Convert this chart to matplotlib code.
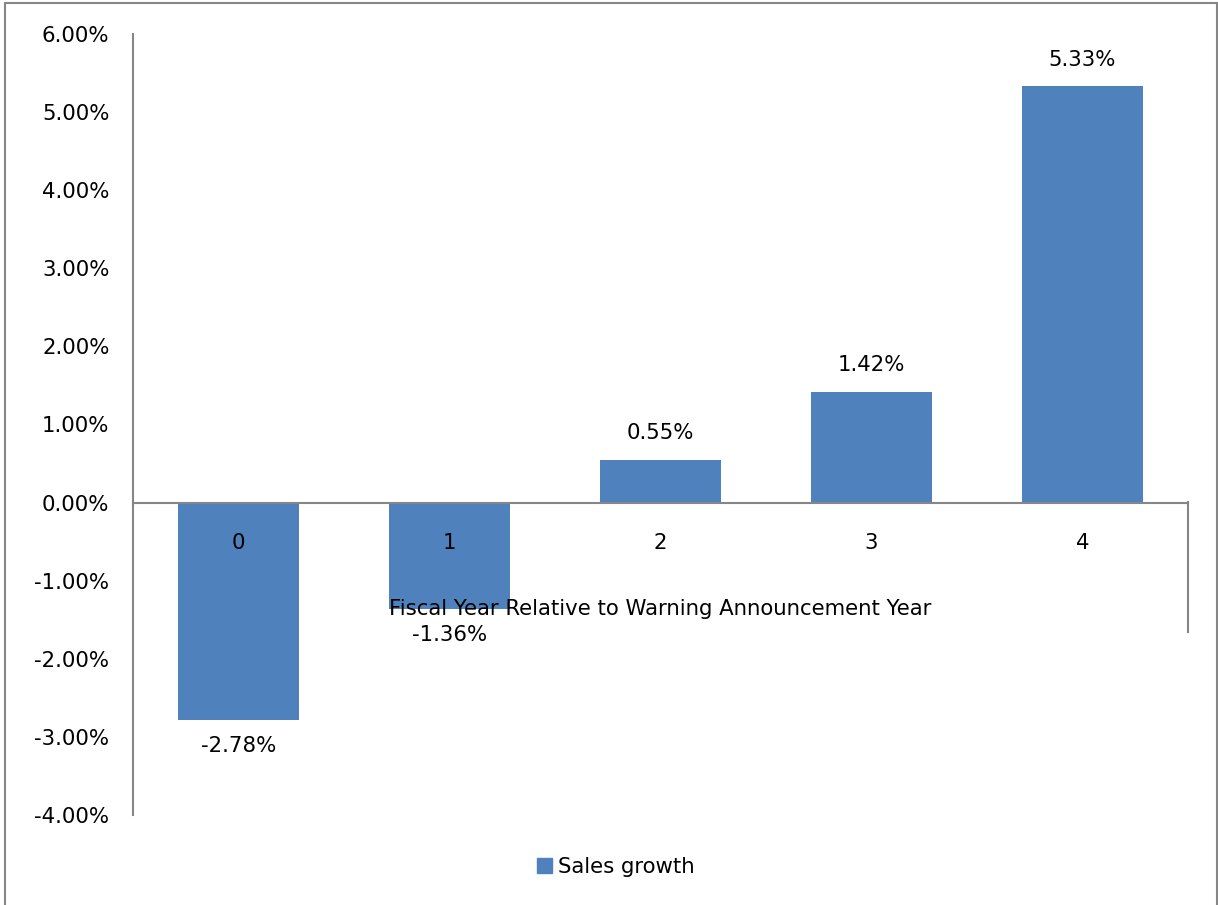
import matplotlib
matplotlib.use("Agg")
import matplotlib.pyplot as plt
from matplotlib.patches import Rectangle
from matplotlib.lines import Line2D
import matplotlib.ticker as mticker

categories = ["0", "1", "2", "3", "4"]
sales_growth = [-2.78, -1.36, 0.55, 1.42, 5.33]
data_labels = ["-2.78%", "-1.36%", "0.55%", "1.42%", "5.33%"]
ytick_values = [-4, -3, -2, -1, 0, 1, 2, 3, 4, 5, 6]
series_name = "Sales growth"
xaxis_title = "Fiscal Year Relative to Warning Announcement Year"

BAR_COLOR = "#4F81BD"
AXIS_COLOR = "#868686"
FONT = ["DejaVu Sans"]
FS = 15.3

plt.rcParams['font.family'] = FONT

W, H = 1218, 905
fig = plt.figure(figsize=(W / 100, H / 100), dpi=100)

# outer chart border
fig.patches.append(Rectangle((5 / W, -0.05), (1217 - 5) / W, 1.05 - 3 / H,
                             transform=fig.transFigure, fill=False,
                             edgecolor=AXIS_COLOR, linewidth=1.5))

left, right, top, bottom = 133, 1188, 34, 815
ax = fig.add_axes([left / W, 1 - bottom / H, (right - left) / W, (bottom - top) / H])
ax.set_axisbelow(False)

x = list(range(len(categories)))
ax.bar(x, sales_growth, width=0.57, color=BAR_COLOR, zorder=1)
ax.set_xlim(-0.5, len(categories) - 0.5)
ax.set_ylim(min(ytick_values), max(ytick_values))

ax.set_yticks(ytick_values)
ax.yaxis.set_major_formatter(mticker.FuncFormatter(lambda v, p: f"{v:.2f}%"))
ax.tick_params(axis='y', length=0, pad=17, labelsize=FS, colors='black')

ax.set_xticks(x)
ax.set_xticklabels(categories)
ax.tick_params(axis='x', length=0, pad=22, labelsize=FS, colors='black')

for s in ["top", "right"]:
    ax.spines[s].set_visible(False)
ax.spines['bottom'].set_position(('data', 0))
ax.spines['bottom'].set_color(AXIS_COLOR)
ax.spines['bottom'].set_linewidth(1.5)
ax.spines['left'].set_color(AXIS_COLOR)
ax.spines['left'].set_linewidth(1.5)

# right edge line of the category axis area
fig.lines.append(Line2D([right / W, right / W], [1 - 502 / H, 1 - 632 / H],
                        transform=fig.transFigure, color=AXIS_COLOR, linewidth=1.5))

# data labels
for xi, v, lab in zip(x, sales_growth, data_labels):
    off = 19 if v >= 0 else -19
    ax.annotate(lab, (xi, v), xytext=(0, off), textcoords='offset points',
                ha='center', va='center', fontsize=FS, zorder=4)

# axis title (drawn inside plot area, overlapping bar 1)
ax.text(0.5, 1 - (609 - top) / (bottom - top), xaxis_title, transform=ax.transAxes,
        ha='center', va='center', fontsize=FS, zorder=5)

# legend
handle = Rectangle((0, 0), 1, 1, color=BAR_COLOR)
fig.legend([handle], [series_name], loc='center left',
           bbox_to_anchor=(537 / W, 1 - 867 / H), frameon=False,
           fontsize=FS, handlelength=0.72, handleheight=0.68,
           handletextpad=0.28, borderpad=0, borderaxespad=0)

fig.savefig("out.png", dpi=100)
